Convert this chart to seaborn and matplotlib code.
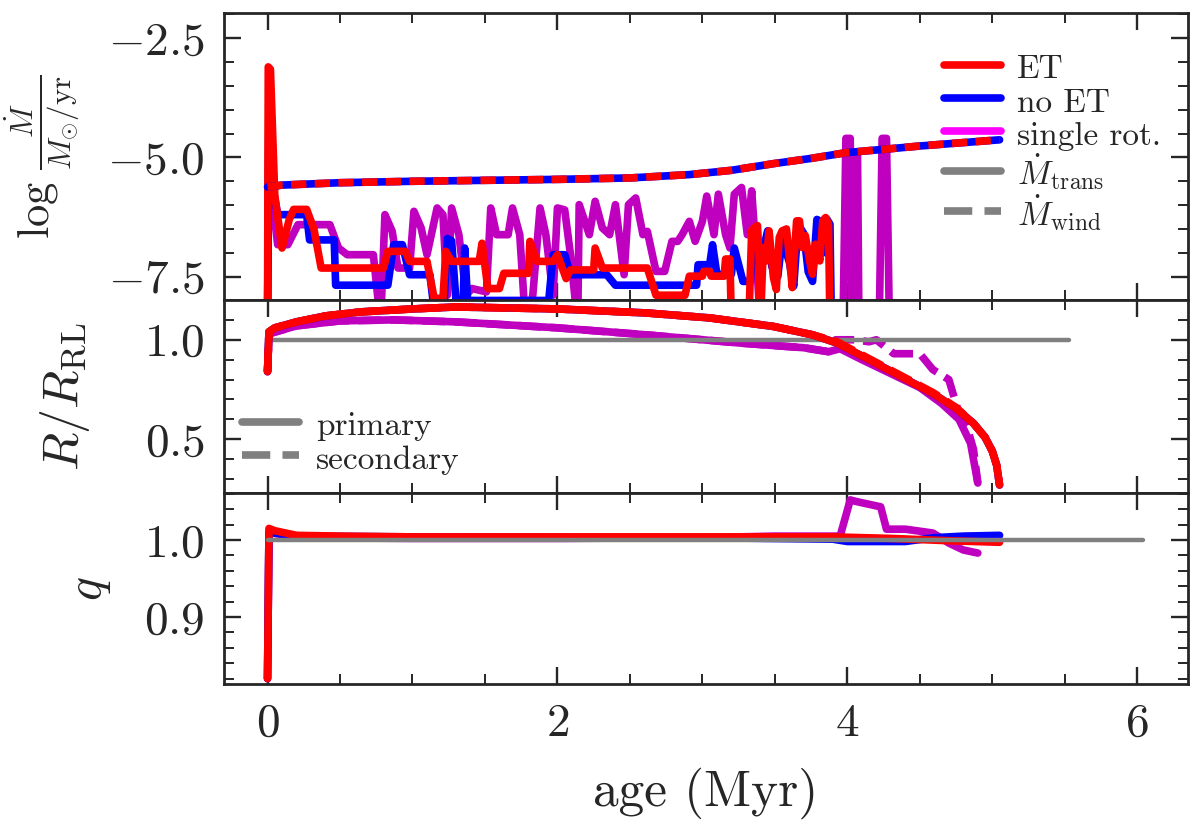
import numpy as np
import matplotlib
matplotlib.use('Agg')
from matplotlib import pyplot as plt
from matplotlib.lines import Line2D
from matplotlib.ticker import MultipleLocator
import seaborn as sns

# values, age in Myr

# top: log Mdot, wind (dashed, same for ET / no ET)
wind_age = [0.0, 0.05, 0.1, 0.5, 1.0, 1.5, 2.0, 2.5, 2.91, 3.2, 3.49, 3.75, 3.99, 4.25, 4.5, 4.75, 5.05]
wind_rate = [-5.62, -5.6, -5.58, -5.53, -5.5, -5.48, -5.46, -5.43, -5.36, -5.27, -5.13, -5.02, -4.9, -4.83, -4.76, -4.7, -4.63]

# top: mass transfer rate, (age, log Mdot); -8.5 = below the plotted range
et_trans = [(0.0, -8.5), (0.005, -3.1), (0.02, -3.15), (0.05, -5.8), (0.10, -6.9), (0.15, -6.3),
            (0.18, -6.09), (0.27, -6.09), (0.32, -6.5), (0.37, -7.32), (0.80, -7.32), (0.83, -6.97),
            (0.95, -6.97), (0.98, -7.18), (1.10, -7.18), (1.15, -7.96), (1.21, -7.96), (1.23, -6.97),
            (1.27, -7.18), (1.46, -7.18), (1.48, -6.8), (1.52, -7.75), (1.60, -7.75), (1.63, -7.43),
            (1.80, -7.43), (1.81, -6.76), (1.86, -7.18), (1.97, -7.18), (2.00, -7.04), (2.06, -7.54),
            (2.09, -7.36), (2.25, -7.36), (2.26, -6.9), (2.31, -7.32), (2.62, -7.32), (2.68, -7.89),
            (2.88, -7.89), (2.91, -7.49), (3.00, -7.49), (3.01, -7.39), (3.05, -7.39), (3.06, -7.49),
            (3.15, -7.49), (3.16, -7.13), (3.19, -7.13), (3.20, -8.5), (3.32, -8.5), (3.34, -6.54),
            (3.36, -6.47), (3.38, -6.43), (3.39, -7.03), (3.40, -8.5), (3.42, -6.89), (3.44, -7.17),
            (3.46, -6.54), (3.49, -7.52), (3.51, -7.77), (3.53, -6.68), (3.55, -6.54), (3.58, -6.5),
            (3.60, -7.1), (3.62, -7.73), (3.65, -6.33), (3.67, -6.33), (3.69, -6.89), (3.71, -6.64),
            (3.74, -7.17), (3.76, -7.45), (3.78, -6.82), (3.81, -7.17), (3.83, -6.33), (3.85, -6.26),
            (3.87, -6.4), (3.88, -8.5)]
noet_trans = [(0.0, -8.5), (0.01, -4.0), (0.03, -5.5), (0.07, -6.2), (0.27, -6.2), (0.29, -6.73),
              (0.46, -6.73), (0.47, -7.68), (0.83, -7.68), (0.87, -6.83), (0.93, -6.83), (0.98, -7.46),
              (1.12, -7.46), (1.14, -7.96), (1.22, -7.96), (1.24, -6.7), (1.27, -6.75), (1.30, -8.0),
              (1.35, -8.0), (1.36, -6.9), (1.38, -8.0), (1.94, -8.0), (1.97, -7.04), (2.05, -7.04),
              (2.09, -7.46), (2.34, -7.46), (2.40, -7.68), (2.96, -7.68), (2.97, -7.25), (3.05, -7.25),
              (3.07, -6.83), (3.10, -7.45), (3.20, -7.45), (3.22, -6.9), (3.28, -7.6), (3.33, -7.6),
              (3.35, -6.9), (3.40, -7.2), (3.45, -6.54), (3.48, -7.3), (3.52, -7.5), (3.55, -6.7),
              (3.60, -7.2), (3.63, -7.7), (3.66, -6.4), (3.70, -6.6), (3.73, -7.4), (3.76, -7.6),
              (3.79, -6.3), (3.82, -6.35), (3.85, -7.0), (3.86, -6.3), (3.88, -6.4), (3.89, -8.5)]
rot_trans = [(0.0, -8.5), (0.01, -3.6), (0.03, -5.8), (0.07, -6.83), (0.14, -6.83), (0.21, -6.41),
             (0.43, -6.41), (0.49, -6.9), (0.55, -7.04), (0.73, -7.04), (0.78, -8.5), (0.81, -6.2),
             (0.86, -6.55), (0.90, -7.32), (0.98, -7.32), (1.01, -6.13), (1.06, -6.48), (1.10, -7.04),
             (1.17, -6.06), (1.21, -6.2), (1.24, -7.89), (1.27, -6.06), (1.32, -6.62), (1.37, -7.89),
             (1.41, -7.75), (1.51, -7.82), (1.54, -6.06), (1.58, -6.62), (1.66, -6.62), (1.69, -6.06),
             (1.74, -6.62), (1.78, -8.5), (1.83, -7.89), (1.88, -6.06), (1.92, -6.62), (1.97, -7.89),
             (2.00, -6.06), (2.05, -6.1), (2.09, -7.04), (2.14, -8.5), (2.15, -5.99), (2.22, -6.62),
             (2.26, -5.92), (2.31, -6.48), (2.36, -6.62), (2.40, -5.99), (2.46, -7.46), (2.49, -5.99),
             (2.54, -5.85), (2.59, -6.62), (2.62, -6.55), (2.68, -7.39), (2.74, -7.39), (2.79, -6.76),
             (2.83, -6.76), (2.86, -6.62), (2.91, -6.34), (2.95, -6.76), (3.00, -6.34), (3.03, -5.81),
             (3.08, -6.62), (3.11, -5.77), (3.16, -6.62), (3.19, -6.9), (3.22, -5.77), (3.27, -5.63),
             (3.31, -6.62), (3.34, -5.7), (3.37, -7.0), (3.40, -8.5),
             (3.97, -8.5), (3.99, -4.6), (4.02, -4.6), (4.03, -8.5), (4.045, -8.5), (4.055, -4.9),
             (4.07, -4.9), (4.08, -8.5), (4.22, -8.5), (4.24, -4.6), (4.27, -4.6), (4.29, -8.5)]

# middle: R / R_RL
et_r1 = [(0.0, 0.84), (0.01, 1.04), (0.05, 1.06), (0.2, 1.09), (0.4, 1.12), (0.64, 1.14), (1.0, 1.155),
         (1.3, 1.165), (2.0, 1.155), (2.61, 1.135), (3.05, 1.11), (3.49, 1.067), (3.76, 1.025),
         (3.93, 0.983), (4.15, 0.90), (4.37, 0.815), (4.59, 0.73), (4.75, 0.655), (4.87, 0.58),
         (4.95, 0.51), (5.0, 0.44), (5.03, 0.37), (5.05, 0.27)]
et_r2 = [(0.0, 0.84), (0.01, 1.04), (0.05, 1.06), (0.2, 1.09), (0.4, 1.12), (0.64, 1.14), (1.0, 1.155),
         (1.3, 1.165), (2.0, 1.155), (2.61, 1.135), (3.05, 1.11), (3.49, 1.067), (3.76, 1.025),
         (3.93, 0.99), (4.15, 0.905), (4.37, 0.82), (4.59, 0.735), (4.75, 0.66), (4.87, 0.58),
         (4.95, 0.51), (5.0, 0.44), (5.03, 0.37), (5.05, 0.27)]
rot_r1 = [(0.0, 0.84), (0.01, 1.03), (0.2, 1.07), (0.5, 1.095), (0.87, 1.10), (1.3, 1.09), (2.0, 1.06),
          (2.61, 1.025), (3.27, 0.983), (3.7, 0.96), (3.87, 0.94), (3.95, 0.955), (4.1, 0.9),
          (4.3, 0.83), (4.5, 0.76), (4.65, 0.68), (4.77, 0.6), (4.85, 0.48), (4.9, 0.28)]
rot_r2 = [(0.0, 0.84), (0.01, 1.03), (0.2, 1.07), (0.5, 1.095), (0.87, 1.10), (1.3, 1.09), (2.0, 1.06),
          (2.61, 1.025), (3.27, 0.983), (3.7, 0.96), (3.87, 0.94), (3.92, 1.0), (4.05, 1.0),
          (4.15, 0.99), (4.2, 1.0), (4.32, 0.93), (4.5, 0.93), (4.59, 0.85), (4.7, 0.80),
          (4.77, 0.63), (4.83, 0.55), (4.87, 0.45), (4.9, 0.28)]
r_ref = [(0.0, 1.0), (5.53, 1.0)]

# bottom: mass ratio q
et_q = [(0.0, 0.82), (0.01, 1.015), (0.05, 1.012), (0.2, 1.006), (0.5, 1.005), (1.0, 1.004),
        (2.0, 1.004), (3.0, 1.004), (3.9, 1.004), (4.3, 1.002), (4.7, 0.999), (5.05, 0.997)]
noet_q = [(0.0, 0.82), (0.01, 1.01), (0.2, 1.005), (1.0, 1.004), (3.0, 1.003), (3.9, 1.001),
          (4.0, 0.998), (4.4, 0.998), (4.6, 1.003), (4.8, 1.005), (5.05, 1.006)]
rot_q = [(0.0, 0.82), (0.01, 1.01), (0.2, 1.003), (1.0, 1.002), (2.0, 1.002), (3.0, 1.003),
         (3.5, 1.005), (3.95, 1.005), (4.02, 1.052), (4.06, 1.05), (4.23, 1.043), (4.27, 1.014),
         (4.4, 1.014), (4.59, 1.009), (4.7, 0.996), (4.8, 0.987), (4.9, 0.983)]
q_ref = [(0.0, 1.0), (6.04, 1.0)]

RED, BLUE, MAG, GRAY = '#ff0000', '#0000ff', '#bf00bf', '#808080'
LW = 5.5

sns.set_style('ticks')
plt.rcParams.update({
    'font.family': 'serif',
    'font.serif': ['cmr10'],
    'mathtext.fontset': 'cm',
    'axes.formatter.use_mathtext': True,
    'axes.linewidth': 2.0,
    'xtick.direction': 'in', 'ytick.direction': 'in',
    'xtick.top': True, 'ytick.right': True,
    'xtick.major.size': 12, 'ytick.major.size': 12,
    'xtick.minor.size': 7, 'ytick.minor.size': 7,
    'xtick.major.width': 1.7, 'ytick.major.width': 1.7,
    'xtick.minor.width': 1.4, 'ytick.minor.width': 1.4,
    'xtick.major.pad': 14, 'ytick.major.pad': 14,
    'xtick.labelsize': 34, 'ytick.labelsize': 34,
})


def line(ax, pts, color, ls='-', lw=LW, z=2):
    a = np.array(pts)
    sns.lineplot(x=a[:, 0], y=a[:, 1], ax=ax, color=color, linestyle=ls, lw=lw,
                 estimator=None, sort=False, zorder=z)


fig, axes = plt.subplots(3, 1, figsize=(12, 8.33), dpi=100, sharex=True,
                         gridspec_kw=dict(height_ratios=[287, 193, 191], hspace=0))
ax1, ax2, ax3 = axes

wind = list(zip(wind_age, wind_rate))
line(ax1, rot_trans, MAG, z=2)
line(ax1, noet_trans, BLUE, z=3)
line(ax1, et_trans, RED, z=4)
line(ax1, wind, BLUE, z=5)
line(ax1, wind, RED, ls=(0, (2.0, 1.1)), z=6)

line(ax2, rot_r1, MAG, z=2)
line(ax2, rot_r2, MAG, ls=(0, (3.0, 1.2)), z=2)
line(ax2, r_ref, GRAY, lw=3.2, z=3)
line(ax2, et_r1, BLUE, z=3)
line(ax2, et_r1, RED, z=4)
line(ax2, et_r2, RED, ls=(0, (3.0, 1.2)), z=4)

line(ax3, rot_q, MAG, z=2)
line(ax3, noet_q, BLUE, z=3)
line(ax3, et_q, RED, z=4)
line(ax3, q_ref, GRAY, lw=3.2, z=5)

ax1.set_ylim(-7.99, -1.97)
ax2.set_ylim(0.23, 1.2)
ax3.set_ylim(0.813, 1.061)
ax3.set_xlim(-0.30, 6.35)

ax1.yaxis.set_major_locator(MultipleLocator(2.5))
ax1.yaxis.set_minor_locator(MultipleLocator(0.5))
ax2.yaxis.set_major_locator(MultipleLocator(0.5))
ax2.yaxis.set_minor_locator(MultipleLocator(0.1))
ax3.yaxis.set_major_locator(MultipleLocator(0.1))
ax3.yaxis.set_minor_locator(MultipleLocator(0.02))
ax3.xaxis.set_major_locator(MultipleLocator(2))
ax3.xaxis.set_minor_locator(MultipleLocator(0.5))
for ax in axes:
    ax.tick_params(which='both', top=True, right=True)

ax1.set_ylabel(r'$\log\,\frac{\dot{M}}{M_{\odot}/\mathrm{yr}}$', fontsize=32)
ax2.set_ylabel(r'$R/R_{\mathrm{RL}}$', fontsize=36)
ax3.set_ylabel(r'$q$', fontsize=36)
ax1.yaxis.set_label_coords(-0.147, 0.5)
ax2.yaxis.set_label_coords(-0.137, 0.5)
ax3.yaxis.set_label_coords(-0.115, 0.5)
ax3.set_xlabel('age (Myr)', fontsize=37, labelpad=16)

h1 = [Line2D([], [], color=RED, lw=LW), Line2D([], [], color=BLUE, lw=LW),
      Line2D([], [], color='#ff00ff', lw=LW), Line2D([], [], color=GRAY, lw=LW),
      Line2D([], [], color=GRAY, lw=LW, ls=(0, (3.7, 1.6)))]
ax1.legend(h1, ['ET', 'no ET', 'single rot.', r'$\dot{M}_{\mathrm{trans}}$', r'$\dot{M}_{\mathrm{wind}}$'],
           loc='upper right', bbox_to_anchor=(1.0, 0.96), frameon=False, fontsize=24,
           handlelength=1.7, handleheight=1.1, handletextpad=0.5, labelspacing=0.0,
           borderaxespad=0.4)
h2 = [Line2D([], [], color=GRAY, lw=LW), Line2D([], [], color=GRAY, lw=LW, ls=(0, (3.7, 1.6)))]
ax2.legend(h2, ['primary', 'secondary'], loc='lower left', frameon=False, fontsize=24,
           handlelength=1.7, handleheight=1.1, handletextpad=0.5, labelspacing=0.0,
           borderaxespad=0.15)

plt.subplots_adjust(left=0.1867, right=0.99, top=0.9844, bottom=0.1789)
plt.savefig('out.png', dpi=100)
